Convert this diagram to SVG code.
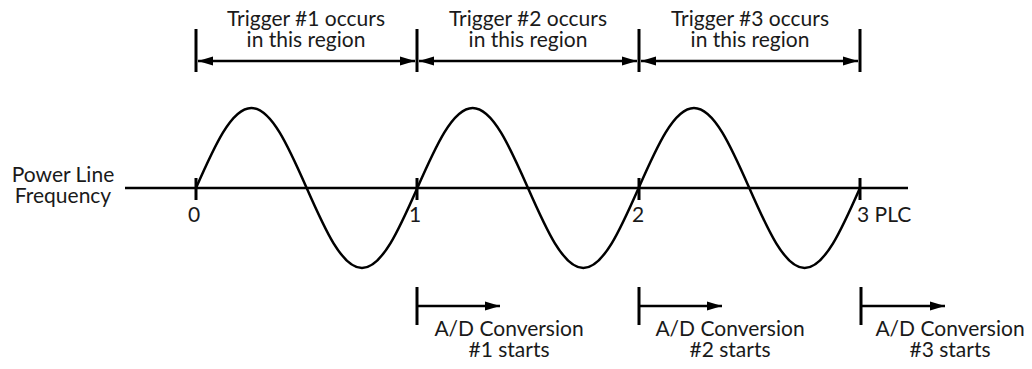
<svg xmlns="http://www.w3.org/2000/svg" width="1032" height="369" viewBox="0 0 1032 369">
<style>
.ln{stroke:#000;stroke-width:2.5;fill:none}
.bar{stroke:#000;stroke-width:3;fill:none}
.t{font-family:Lato,"Open Sans","Liberation Sans",sans-serif;font-size:21px;fill:#1a1a1a}
.m{text-anchor:middle}
</style>
<defs>
<marker id="ah" markerUnits="userSpaceOnUse" markerWidth="16" markerHeight="10" refX="15" refY="5" orient="auto-start-reverse">
<path d="M0,0.5 L15,5 L0,9.5 Z" fill="#000"/>
</marker>
</defs>
<rect width="1032" height="369" fill="#fff"/>
<g id="label-plf">
<text class="t m" x="63" y="182">Power Line</text>
<text class="t m" x="63" y="203">Frequency</text>
</g>
<g id="axis">
<line class="ln" x1="125" y1="188" x2="908" y2="188"/>
<line class="bar" x1="196" y1="178" x2="196" y2="200"/>
<line class="bar" x1="417" y1="178" x2="417" y2="200"/>
<line class="bar" x1="639" y1="178" x2="639" y2="200"/>
<line class="bar" x1="860" y1="178" x2="860" y2="200"/>
<text class="t m" x="194" y="222">0</text>
<text class="t m" x="415" y="222">1</text>
<text class="t m" x="638" y="222">2</text>
<text class="t" x="857" y="222">3 PLC</text>
</g>
<g id="sine">
<path class="ln" d="M196,188 c18.05,-40.98 35.31,-80 55.33,-80 s37.28,39.02 55.33,80 s35.31,80 55.33,80 s37.28,-39.02 55.33,-80 s35.31,-80 55.33,-80 s37.28,39.02 55.33,80 s35.31,80 55.33,80 s37.28,-39.02 55.33,-80 s35.31,-80 55.33,-80 s37.28,39.02 55.33,80 s35.31,80 55.33,80 s37.28,-39.02 55.33,-80"/>
</g>
<g id="trigger1">
<text class="t m" x="306" y="26">Trigger #1 occurs</text>
<text class="t m" x="306" y="47">in this region</text>
</g>
<g id="trigger2">
<text class="t m" x="528" y="26">Trigger #2 occurs</text>
<text class="t m" x="528" y="47">in this region</text>
</g>
<g id="trigger3">
<text class="t m" x="750" y="26">Trigger #3 occurs</text>
<text class="t m" x="750" y="47">in this region</text>
</g>
<g id="ad1">
<text class="t m" x="509" y="336">A/D Conversion</text>
<text class="t m" x="509" y="357">#1 starts</text>
</g>
<g id="ad2">
<text class="t m" x="730" y="336">A/D Conversion</text>
<text class="t m" x="730" y="357">#2 starts</text>
</g>
<g id="ad3">
<text class="t m" x="950" y="336">A/D Conversion</text>
<text class="t m" x="950" y="357">#3 starts</text>
</g>
<g id="connectors">
<line class="bar" x1="196" y1="29" x2="196" y2="72"/>
<line class="bar" x1="417" y1="29" x2="417" y2="72"/>
<line class="bar" x1="639" y1="29" x2="639" y2="72"/>
<line class="bar" x1="860" y1="29" x2="860" y2="72"/>
<line class="ln" x1="198" y1="61" x2="415" y2="61" marker-start="url(#ah)" marker-end="url(#ah)"/>
<line class="ln" x1="419" y1="61" x2="637" y2="61" marker-start="url(#ah)" marker-end="url(#ah)"/>
<line class="ln" x1="641" y1="61" x2="858" y2="61" marker-start="url(#ah)" marker-end="url(#ah)"/>
<line class="bar" x1="417" y1="287" x2="417" y2="325"/>
<line class="bar" x1="639" y1="287" x2="639" y2="325"/>
<line class="bar" x1="861" y1="287" x2="861" y2="325"/>
<line class="ln" x1="417" y1="306" x2="500" y2="306" marker-end="url(#ah)"/>
<line class="ln" x1="639" y1="306" x2="722" y2="306" marker-end="url(#ah)"/>
<line class="ln" x1="861" y1="306" x2="945" y2="306" marker-end="url(#ah)"/>
</g>
</svg>
